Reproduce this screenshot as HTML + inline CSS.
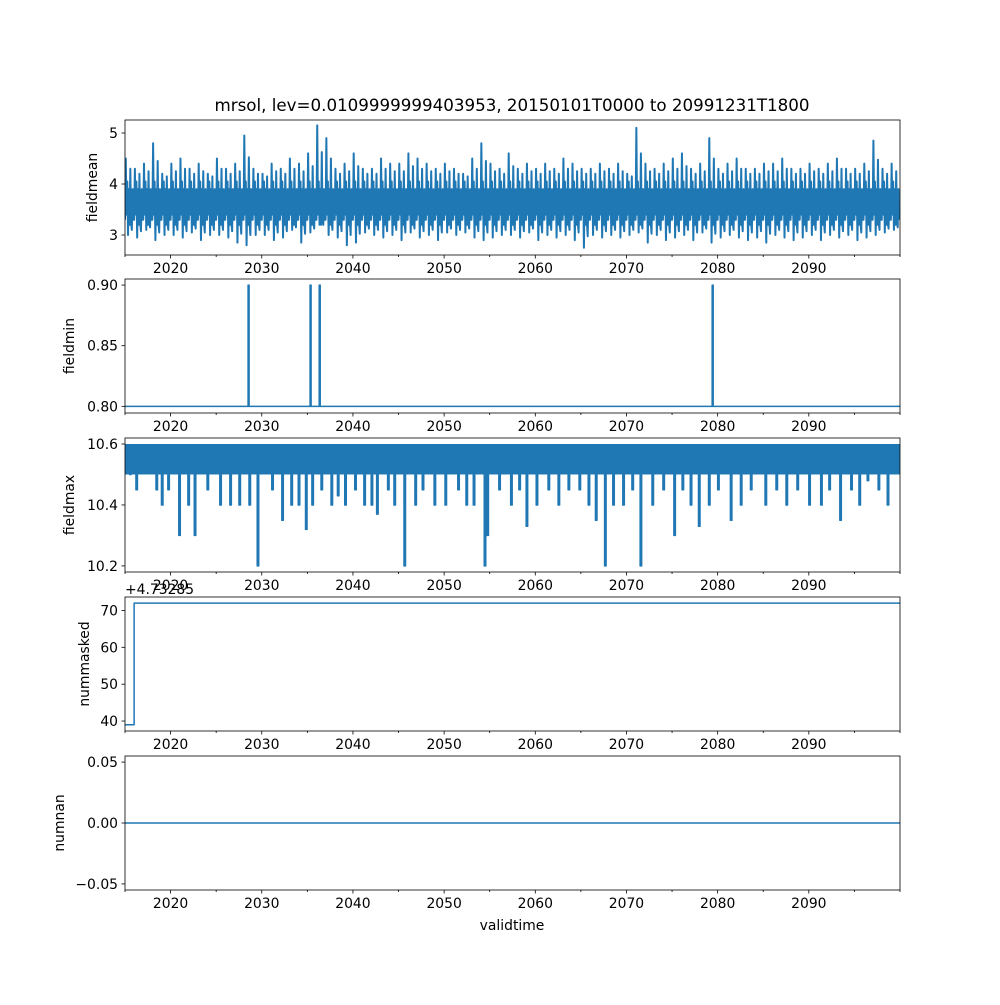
<!DOCTYPE html>
<html><head><meta charset="utf-8"><style>
body{margin:0;background:#fff;width:1000px;height:1000px;overflow:hidden}
svg{font-family:"DejaVu Sans","Liberation Sans",sans-serif}
</style></head><body>
<svg id="c" width="1000" height="1000" viewBox="0 0 1000 1000"></svg>
<script>
const years = [2015,2100];
const meanPeaks = [4.5,4.3,4.4,4.8,4.2,4.4,4.5,4.3,4.4,4.2,4.5,4.3,4.4,4.95,4.3,4.2,4.4,4.3,4.5,4.4,4.6,5.15,4.9,4.3,4.4,4.6,4.3,4.3,4.5,4.4,4.4,4.6,4.5,4.4,4.3,4.4,4.3,4.2,4.5,4.8,4.4,4.3,4.6,4.3,4.4,4.3,4.4,4.3,4.5,4.4,4.3,4.3,4.4,4.3,4.4,4.2,5.1,4.4,4.3,4.4,4.5,4.6,4.3,4.4,4.9,4.3,4.4,4.5,4.3,4.3,4.4,4.4,4.5,4.3,4.3,4.4,4.3,4.4,4.5,4.3,4.3,4.4,4.85,4.3,4.4];
const meanTroughs = [3.0,2.95,3.1,2.9,3.0,3.0,2.95,3.05,2.9,3.0,3.0,2.95,2.85,2.8,3.0,3.0,2.9,2.95,3.1,2.85,3.05,3.2,3.0,2.95,2.8,2.85,3.05,3.0,2.95,3.0,2.9,3.05,2.95,3.0,2.9,3.05,3.0,3.05,2.95,2.9,2.95,3.0,3.0,2.95,3.05,2.9,3.0,2.95,3.0,2.9,2.75,3.0,2.95,3.0,2.95,3.0,3.05,2.85,3.0,2.9,2.95,3.0,2.9,3.05,2.85,2.95,3.0,2.95,2.9,2.95,2.85,3.0,2.95,2.9,2.95,3.0,2.9,3.0,2.95,3.0,2.9,2.95,3.0,3.05,3.1];
const minSpikes = [2028.5,2035.3,2036.3,2079.4];
const minBase = 0.8, minSpikeVal = 0.9;
const maxDipYears = [2015.5,2016.2,2018.4,2019.0,2019.7,2020.9,2021.9,2022.6,2024.0,2025.4,2026.5,2027.5,2028.6,2029.5,2031.1,2032.2,2033.2,2034.0,2034.8,2035.5,2036.5,2037.6,2038.3,2039.1,2040.2,2041.2,2042.0,2042.6,2043.8,2044.5,2045.6,2046.8,2047.6,2048.9,2050.1,2051.5,2052.4,2053.2,2054.4,2054.7,2056.0,2057.3,2058.2,2059.0,2060.1,2061.4,2062.5,2063.6,2064.8,2065.8,2066.6,2067.6,2068.5,2069.6,2070.6,2071.5,2072.8,2074.0,2075.2,2076.1,2077.0,2077.9,2079.0,2080.0,2081.4,2082.5,2083.6,2085.2,2086.4,2087.5,2088.7,2090.0,2091.3,2092.2,2093.4,2094.6,2095.5,2096.4,2097.6,2098.6];
const maxDipVals = [10.5,10.45,10.45,10.4,10.45,10.3,10.4,10.3,10.45,10.4,10.4,10.4,10.4,10.2,10.45,10.35,10.4,10.4,10.32,10.4,10.45,10.4,10.43,10.4,10.45,10.4,10.4,10.37,10.45,10.4,10.2,10.4,10.45,10.4,10.4,10.45,10.4,10.4,10.2,10.3,10.45,10.4,10.45,10.33,10.4,10.45,10.4,10.45,10.45,10.4,10.35,10.2,10.4,10.4,10.45,10.2,10.4,10.45,10.3,10.45,10.4,10.33,10.4,10.45,10.35,10.4,10.45,10.4,10.45,10.4,10.45,10.4,10.4,10.45,10.35,10.45,10.4,10.48,10.45,10.4];
const maskX = [2015,2016,2016,2100];
const maskY = [39,39,72,72];
const nanVal = 0;
const xTicks = [2020,2030,2040,2050,2060,2070,2080,2090];

const svg=document.getElementById('c');
const NS='http://www.w3.org/2000/svg';
const X0=125,X1=900;
function sx(t){return X0+(t-years[0])/(years[1]-years[0])*(X1-X0);}
function mk(tag,attrs,parent){const e=document.createElementNS(NS,tag);for(const k in attrs)e.setAttribute(k,attrs[k]);(parent||svg).appendChild(e);return e;}
const C='#1f77b4';
const FS=13.9;

const panels=[
 {name:'fieldmean',top:120,bot:255,ymin:2.608,ymax:5.255,ticks:[3,4,5],fmt:v=>String(v)},
 {name:'fieldmin',top:279,bot:413,ymin:0.7945,ymax:0.905,ticks:[0.80,0.85,0.90],fmt:v=>v.toFixed(2)},
 {name:'fieldmax',top:438,bot:572,ymin:10.180,ymax:10.6197,ticks:[10.2,10.4,10.6],fmt:v=>v.toFixed(1)},
 {name:'nummasked',top:597,bot:731,ymin:37.3,ymax:73.65,ticks:[40,50,60,70],fmt:v=>String(v)},
 {name:'numnan',top:756,bot:890,ymin:-0.055,ymax:0.055,ticks:[-0.05,0,0.05],fmt:v=>v===0?'0.00':(v<0?'\u22120.05':'0.05')}
];
function syf(p){return v=>p.bot-(v-p.ymin)/(p.ymax-p.ymin)*(p.bot-p.top);}
const ylx=[97,74,74,89,64];

panels.forEach((p,i)=>{
 const g=mk('g',{});
 
 
 const sy=syf(p);
 const clip=mk('clipPath',{id:'cl'+i},g);
 mk('rect',{x:X0,y:p.top,width:X1-X0,height:p.bot-p.top},clip);
 const dg=mk('g',{'clip-path':'url(#cl'+i+')'},g);
 let d='';
 if(i===0){
  const pts=[];
  for(let k=0;k<meanPeaks.length;k++){
   const t=years[0]+k, pk=meanPeaks[k], tr=meanTroughs[k];
   const seq=[3.3,pk,3.4,4.05,tr,3.9,3.2,(pk+4.1)/2,3.25,(tr+3.2)/2,3.9,3.3];
   seq.forEach((v,j)=>pts.push([t+j/seq.length,v]));
  }
  d=pts.map((q,j)=>(j?'L':'M')+sx(q[0]).toFixed(2)+','+sy(q[1]).toFixed(2)).join('');
 } else if(i===1){
  d='M'+sx(years[0])+','+sy(minBase);
  minSpikes.forEach(t=>{d+='L'+sx(t)+','+sy(minBase)+'L'+sx(t)+','+sy(minSpikeVal)+'L'+(sx(t)+1)+','+sy(minSpikeVal)+'L'+(sx(t)+1)+','+sy(minBase);});
  d+='L'+sx(years[1])+','+sy(minBase);
 } else if(i===2){
  const band=mk('rect',{x:X0,y:sy(10.6),width:X1-X0,height:sy(10.5)-sy(10.6),fill:C},dg);
  
  
  maxDipYears.forEach((t,k)=>{d+='M'+sx(t).toFixed(2)+','+sy(10.5)+'L'+sx(t).toFixed(2)+','+sy(maxDipVals[k]).toFixed(2)+'L'+(sx(t)+1.5).toFixed(2)+','+sy(maxDipVals[k]).toFixed(2)+'L'+(sx(t)+1.5).toFixed(2)+','+sy(10.5);});
 } else if(i===3){
  d=maskX.map((t,j)=>(j?'L':'M')+sx(t)+','+sy(maskY[j])).join('');
 } else {
  d='M'+sx(years[0])+','+sy(nanVal)+'L'+sx(years[1])+','+sy(nanVal);
 }
 const line=mk('path',{d:d,fill:'none',stroke:C,'stroke-width':(i===0?2:1.5),'stroke-linejoin':'round'},dg);
 
 
 mk('rect',{x:X0,y:p.top,width:X1-X0,height:p.bot-p.top,fill:'none',stroke:'#000','stroke-width':0.8},g);
 p.ticks.forEach(v=>{
  const y=sy(v);
  mk('line',{x1:X0-3.5,x2:X0,y1:y,y2:y,stroke:'#000','stroke-width':0.8},g);
  const tx=mk('text',{x:X0-7,y:y+5,'font-size':FS,'text-anchor':'end'},g);
  tx.textContent=p.fmt(v);
  
  
 });
 for(let t=years[0];t<=years[1];t+=5){
  const major=xTicks.includes(t);
  mk('line',{x1:sx(t),x2:sx(t),y1:p.bot,y2:p.bot+(major?3.5:2),stroke:'#000','stroke-width':0.8},g);
 }
 xTicks.forEach(t=>{
  const tx=mk('text',{x:sx(t),y:p.bot+18,'font-size':FS,'text-anchor':'middle'},g);
  tx.textContent=t;
  
  
 });
 const yl=mk('text',{x:0,y:0,'font-size':FS,'text-anchor':'middle',transform:'translate('+ylx[i]+','+((p.top+p.bot)/2)+') rotate(-90)'},g);
 yl.textContent=p.name;
 
 
});
const off=mk('text',{x:125,y:594,'font-size':FS});
off.textContent='+4.73285';


const t=mk('text',{x:512,y:111,'font-size':16.7,'text-anchor':'middle'});
t.textContent='mrsol, lev=0.0109999999403953, 20150101T0000 to 20991231T1800';


const xl=mk('text',{x:512,y:930,'font-size':FS,'text-anchor':'middle'});
xl.textContent='validtime';


</script>
</body></html>
